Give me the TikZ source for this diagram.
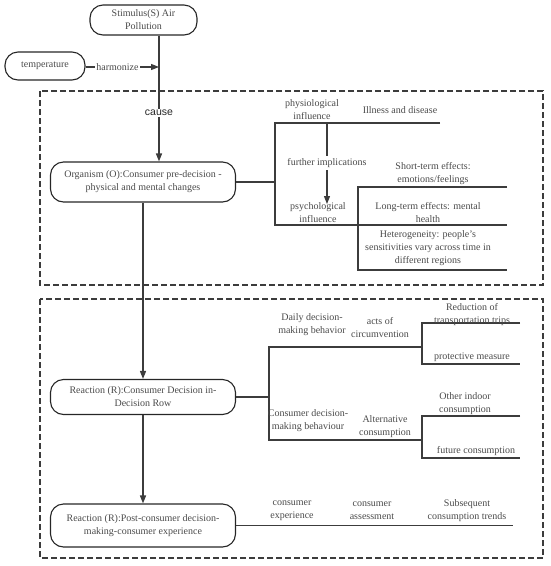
\documentclass[tikz,border=0pt]{standalone}
\usepackage{fontspec}
\setmainfont{Liberation Serif}
\newfontfamily\causefont{Liberation Sans}
\usetikzlibrary{arrows.meta}
\definecolor{txt}{HTML}{4A4A4A}
\definecolor{lc}{HTML}{3C3C3C}
\begin{document}
\begin{tikzpicture}[x=1pt,y=-1pt,
  fs/.style={font=\fontsize{10}{13}\selectfont},
  box/.style={draw=black!85, line width=1.1pt, rounded corners=13pt, align=center, text=txt, fs, inner sep=0pt},
  lbl/.style={align=center, text=txt, fs, inner sep=0pt},
  ln/.style={draw=lc, line width=1.2pt},
  arr/.style={ln, -{Triangle[length=8pt,width=6pt]}},
  dbox/.style={draw=lc, line width=1.2pt, dash pattern=on 6pt off 3pt}]
\useasboundingbox (0,0) rectangle (550,566);
% dashed frames
\draw[dbox] (40,91) rectangle (543,285);
\draw[dbox] (40,299) rectangle (543,558);
% main boxes
\node[box, minimum width=107pt, minimum height=30pt] (stim) at (143.5,20) {Stimulus(S) Air\\Pollution};
\node[box, minimum width=80pt, minimum height=28pt] (temp) at (45,66) {temperature};
\node[box, minimum width=185pt, minimum height=40pt] (org) at (143,182) {Organism (O):Consumer pre-decision -\\physical and mental changes};
\node[box, minimum width=185pt, minimum height=35pt] (r1) at (143,397) {Reaction (R):Consumer Decision in-\\Decision Row};
\node[box, minimum width=185pt, minimum height=43pt] (r2) at (143,525.5) {Reaction (R):Post-consumer decision-\\making-consumer experience};
% stimulus line
\coordinate (sx) at (159,0);
\coordinate (hm) at (159,67);
\draw[ln] (stim.south -| sx) -- (hm);
\draw[arr] (hm) -- (org.north -| sx);
\draw[arr] (temp.east |- hm) -- (hm);
\node[lbl, fill=white, inner xsep=1pt] (harm) at (117.5,67) {harmonize};
\node[font=\causefont\fontsize{10.5}{12}\selectfont, fill=white, inner sep=1pt, text=black!85] (cause) at (159,113) {cause};
% organism bracket
\coordinate (ob1) at (275,123);
\coordinate (ob2) at (275,225);
\coordinate (oe1) at (440,123);
\coordinate (oe2) at (507,225);
\coordinate (sb1) at (358,187);
\coordinate (sb2) at (358,270);
\coordinate (se1) at (507,187);
\coordinate (se2) at (507,270);
\draw[ln] (org.east) -- (org.east -| ob1);
\draw[ln] (oe1) -- (ob1) -- (ob2) -- (oe2);
\draw[ln] (se1) -- (sb1) -- (sb2) -- (se2);
\coordinate (fa) at (327,123);
\coordinate (fb) at (327,204);
\draw[arr] (fa) -- (fb);
\node[lbl, fill=white, inner ysep=2pt] (fi) at (327,163) {further implications};
\node[lbl] (phys) at (312,110) {physiological\\influence};
\node[lbl] (ill) at (400,110) {Illness and disease};
\node[lbl] (short) at (433,174) {Short-term effects:\\emotions/feelings};
\node[lbl] (psy) at (318,212.5) {psychological\\influence};
\node[lbl] (long) at (428,212.5) {Long-term effects: mental\\health};
\node[lbl] (het) at (428,248) {Heterogeneity: people's\\sensitivities vary across time in\\different regions};
% reaction 1 bracket
\coordinate (rb1) at (269,347);
\coordinate (rb2) at (269,440);
\coordinate (re1) at (422,347);
\coordinate (re2) at (422,440);
\draw[ln] (r1.east) -- (r1.east -| rb1);
\draw[ln] (re1) -- (rb1) -- (rb2) -- (re2);
\coordinate (a1) at (422,323);
\coordinate (a2) at (422,364);
\coordinate (a1e) at (520,323);
\coordinate (a2e) at (520,364);
\draw[ln] (a1e) -- (a1) -- (a2) -- (a2e);
\coordinate (b1) at (422,416);
\coordinate (b2) at (422,458);
\coordinate (b1e) at (520,416);
\coordinate (b2e) at (520,458);
\draw[ln] (b1e) -- (b1) -- (b2) -- (b2e);
\node[lbl] (daily) at (312,325) {Daily decision-\\making behavior};
\node[lbl] (acts) at (380,328) {acts of\\circumvention};
\node[lbl] (red) at (472,315) {Reduction of\\transportation trips};
\node[lbl] (prot) at (472,357) {protective measure};
\node[lbl] (other) at (465,403.5) {Other indoor\\consumption};
\node[lbl] (cdm) at (308,420.5) {Consumer decision-\\making behaviour};
\node[lbl] (alt) at (385,427) {Alternative\\consumption};
\node[lbl] (fut) at (476,451) {future consumption};
% reaction flow
\draw[arr] (org.south) -- (r1.north);
\draw[arr] (r1.south) -- (r2.north);
\coordinate (r2e) at (513,525.5);
\draw[ln] (r2.east) -- (r2e);
\node[lbl] (cexp) at (292,511) {consumer\\experience};
\node[lbl] (cass) at (372,511) {consumer\\assessment};
\node[lbl] (subs) at (467,511) {Subsequent\\consumption trends};
\end{tikzpicture}
\end{document}
